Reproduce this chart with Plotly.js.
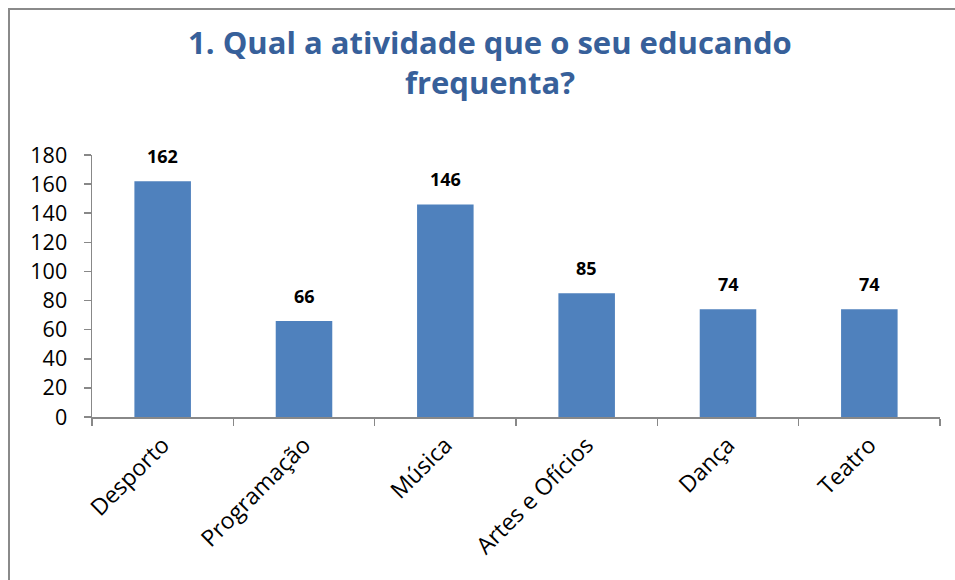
<!DOCTYPE html>
<html>
<head>
<meta charset="utf-8">
<script src="https://cdn.plot.ly/plotly-3.0.1.min.js"></script>
<style>html,body{margin:0;padding:0;background:#fff;}#chart{width:955px;height:580px;}</style>
</head>
<body>
<div id="chart"></div>
<script>
const categories = ["Desporto", "Programação", "Música", "Artes e Ofícios", "Dança", "Teatro"];
const values = [162, 66, 146, 85, 74, 74];
const yTicks = [0, 20, 40, 60, 80, 100, 120, 140, 160, 180];
const chartTitle = "1. Qual a atividade que o seu educando<br>frequenta?";

const font = "Open Sans, Noto Sans, sans-serif";

const trace = {
  type: "bar",
  x: categories,
  y: values,
  marker: {color: "#4F81BD", line: {width: 0}},
  hoverinfo: "x+y"
};

const annotations = categories.map((c, i) => ({
  x: c, y: values[i], xref: "x", yref: "y",
  text: "<b>" + values[i] + "</b>",
  showarrow: false, yanchor: "bottom", yshift: 11,
  font: {family: font, size: 18, color: "#000"}
}));

const layout = {
  width: 955, height: 580,
  margin: {l: 92, r: 15, t: 155, b: 163},
  paper_bgcolor: "#fff", plot_bgcolor: "#fff",
  showlegend: false,
  bargap: 0.6,
  title: {
    text: "<b>" + chartTitle + "</b>",
    font: {family: font, size: 31, color: "#37609A"},
    x: 0.513, xanchor: "center", y: 0.907, yanchor: "middle"
  },
  xaxis: {
    type: "category",
    tickangle: -45,
    tickson: "boundaries",
    ticks: "outside", ticklen: 7, tickcolor: "#888", tickwidth: 1.5,
    showline: true, linecolor: "#888", linewidth: 1.5,
    showgrid: false, zeroline: false,
    ticklabelstandoff: 4,
    tickfont: {family: font, size: 23, color: "#000"}
  },
  yaxis: {
    range: [0, 180],
    tickvals: yTicks,
    ticktext: yTicks.map(String),
    ticks: "outside", ticklen: 7, tickcolor: "#888", tickwidth: 1.5,
    showline: true, linecolor: "#888", linewidth: 1.5,
    showgrid: false, zeroline: false,
    ticklabelstandoff: 12,
    tickfont: {family: font, size: 21.5, color: "#000"}
  },
  annotations: annotations,
  shapes: [{
    type: "rect", xref: "paper", yref: "paper",
    x0: (9 - 92) / 848, x1: (970 - 92) / 848,
    y0: (417 - 600) / 262, y1: (417 - 9) / 262,
    line: {color: "#8A8A8A", width: 2}, fillcolor: "rgba(0,0,0,0)",
    layer: "above"
  }]
};

Plotly.newPlot("chart", [trace], layout, {staticPlot: true, displayModeBar: false});
</script>
</body>
</html>
